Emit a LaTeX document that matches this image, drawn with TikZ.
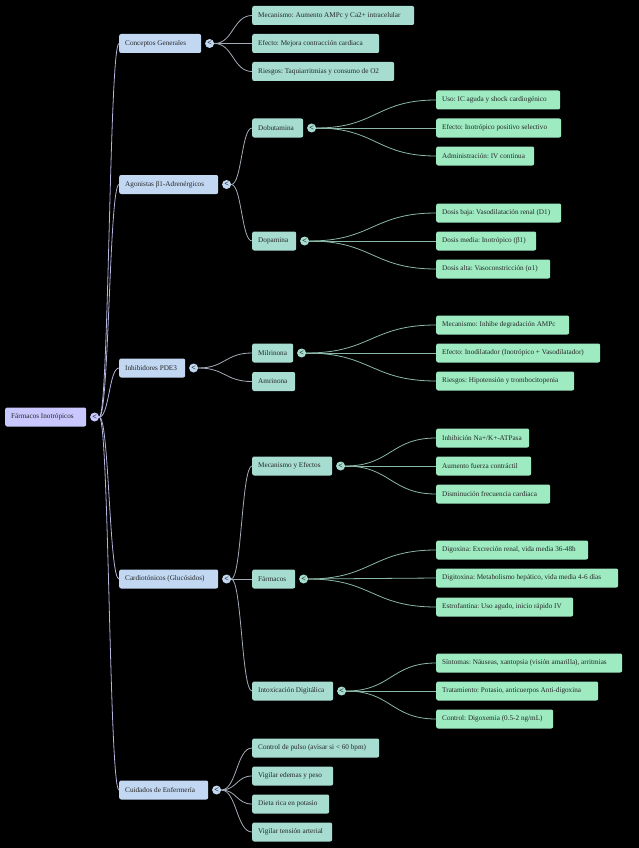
\documentclass[tikz,border=0pt]{standalone}
\usepackage{fontspec}
\setmainfont{Liberation Serif}
\frenchspacing
\usetikzlibrary{positioning, calc}

\definecolor{rootfill}{HTML}{C8C8FF}
\definecolor{catfill}{HTML}{C2D8F2}
\definecolor{subfill}{HTML}{A6DDD0}
\definecolor{leaffill}{HTML}{9EEBC2}
\definecolor{rootline}{HTML}{B4B4DC}
\definecolor{catline}{HTML}{A4ACB8}
\definecolor{subline}{HTML}{8AB8A6}

\tikzset{
	nbox/.style={anchor=west, rounded corners=2pt, minimum height=19pt, inner xsep=6pt, inner ysep=0pt,
		font=\fontsize{7.2}{9}\selectfont, text=black!85},
	knob/.style={circle, inner sep=0pt, minimum size=9pt, font=\fontsize{8}{8}\selectfont\bfseries, text=black!90},
	wire/.style={line width=0.8pt}
}

% horizontal S-curve from a knob to the west side of a box
\newcommand{\link}[3]{%
	\coordinate (mid) at ($(#1.east)!0.5!(#2.west)$);
	\draw[wire, #3] (#1.east) .. controls (mid |- #1.east) and (mid |- #2.west) .. (#2.west);}

\begin{document}
\begin{tikzpicture}[x=1pt, y=-1pt]
	\fill[black] (0,0) rectangle (639,848);
	\useasboundingbox (0,0) rectangle (639,848);

	% root
	\node[nbox, fill=rootfill] (root) at (5,417) {\makebox[69pt][l]{Fármacos Inotrópicos}};
	\node[knob, fill=rootfill, right=3.5pt of root] (kroot) {<};

	% categories
	\foreach \n/\y/\w/\t in {conc/43.5/82/{Conceptos Generales},
			agon/184.5/99/{Agonistas β1-Adrenérgicos},
			inhib/368/66/{Inhibidores PDE3},
			cardio/579/99/{Cardiotónicos (Glucósidos)},
			cuid/790/89/{Cuidados de Enfermería}} {
		\pgfmathsetmacro\tw{\w-12}
		\node[nbox, fill=catfill] (\n) at (119,\y) {\makebox[\tw pt][l]{\t}};
		\node[knob, fill=catfill, right=3.5pt of \n] (k\n) {<};
		\link{kroot}{\n}{rootline}
	}

	% second level
	\foreach \m/\n/\y/\w/\t in {conc/cg1/15.5/162/{Mecanismo: Aumento AMPc y Ca2+ intracelular},
			conc/cg2/43.5/127/{Efecto: Mejora contracción cardiaca},
			conc/cg3/71.5/142/{Riesgos: Taquiarritmias y consumo de O2},
			agon/dobu/128/51/{Dobutamina},
			agon/dopa/241/44/{Dopamina},
			inhib/milr/353/41/{Milrinona},
			inhib/amri/381.5/43/{Amrinona},
			cardio/mecef/466/80/{Mecanismo y Efectos},
			cardio/farm/579/43/{Fármacos},
			cardio/intox/691/81/{Intoxicación Digitálica},
			cuid/cu1/748/127/{Control de pulso (avisar si < 60 bpm)},
			cuid/cu2/776/81/{Vigilar edemas y peso},
			cuid/cu3/804/77/{Dieta rica en potasio},
			cuid/cu4/832/80/{Vigilar tensión arterial}} {
		\pgfmathsetmacro\tw{\w-12}
		\node[nbox, fill=subfill] (\n) at (252,\y) {\makebox[\tw pt][l]{\t}};
		\link{k\m}{\n}{catline}
	}
	\foreach \n in {dobu, dopa, milr, mecef, farm, intox}
		\node[knob, fill=subfill, right=3.5pt of \n] (k\n) {<};

	% leaves
	\foreach \m/\n/\y/\w/\t in {dobu/db1/100/124/{Uso: IC aguda y shock cardiogénico},
			dobu/db2/128/125/{Efecto: Inotrópico positivo selectivo},
			dobu/db3/156/98/{Administración: IV continua},
			dopa/dp1/213/125/{Dosis baja: Vasodilatación renal (D1)},
			dopa/dp2/241/100/{Dosis media: Inotrópico (β1)},
			dopa/dp3/269/114/{Dosis alta: Vasoconstricción (α1)},
			milr/mi1/325/133/{Mecanismo: Inhibe degradación AMPc},
			milr/mi2/353/164/{Efecto: Inodilatador (Inotrópico + Vasodilatador)},
			milr/mi3/381/138/{Riesgos: Hipotensión y trombocitopenia},
			mecef/me1/438/93/{Inhibición Na+/K+-ATPasa},
			mecef/me2/466/95/{Aumento fuerza contráctil},
			mecef/me3/494/114/{Disminución frecuencia cardiaca},
			farm/fa1/550/152/{Digoxina: Excreción renal, vida media 36-48h},
			farm/fa2/578/182/{Digitoxina: Metabolismo hepático, vida media 4-6 días},
			farm/fa3/607/137/{Estrofantina: Uso agudo, inicio rápido IV},
			intox/in1/663/186/{Síntomas: Náuseas, xantopsia (visión amarilla), arritmias},
			intox/in2/691/162/{Tratamiento: Potasio, anticuerpos Anti-digoxina},
			intox/in3/719/117/{Control: Digoxemia (0.5-2 ng/mL)}} {
		\pgfmathsetmacro\tw{\w-12}
		\node[nbox, fill=leaffill] (\n) at (436,\y) {\makebox[\tw pt][l]{\t}};
		\link{k\m}{\n}{subline}
	}
\end{tikzpicture}
\end{document}
